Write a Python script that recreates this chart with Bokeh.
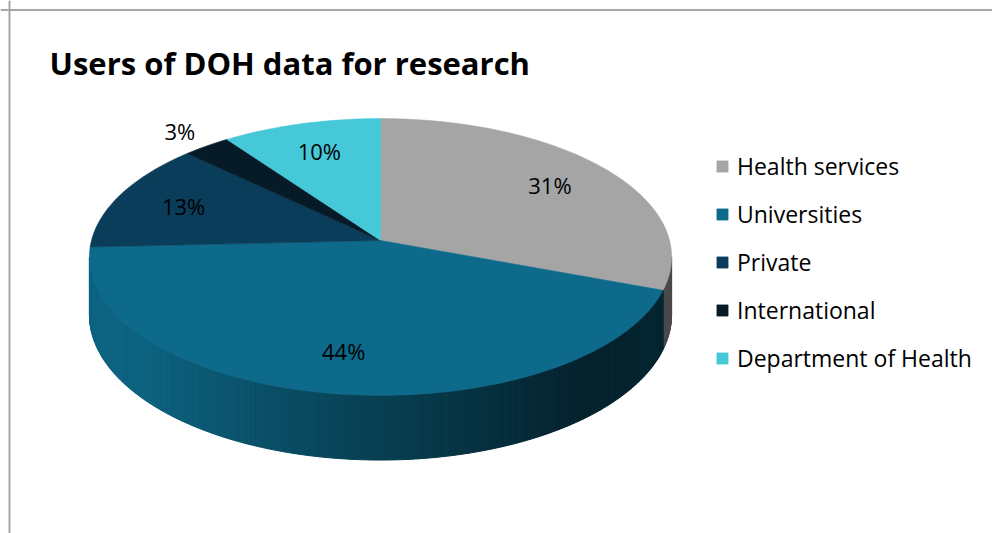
import numpy as np
from bokeh.plotting import figure
from bokeh.models import Range1d, Span, ColumnDataSource, Label
from bokeh.embed import file_html
from bokeh.resources import INLINE

# ---- data ----
TITLE = "Users of DOH data for research"
categories = ["Health services", "Universities", "Private", "International", "Department of Health"]
shares = [31, 44, 13, 3, 10]
pct_labels = ["31%", "44%", "13%", "3%", "10%"]
colors = ["#A5A5A5", "#0E6A8A", "#0A3D5A", "#061B27", "#45C8D8"]

# ---- figure: data units == page pixels ----
W, H = 992, 533
p = figure(width=W, height=H, x_range=Range1d(0, W), y_range=Range1d(H, 0),
           output_backend="svg", toolbar_location=None, min_border=0,
           x_axis_location=None, y_axis_location=None)
p.grid.visible = False
p.outline_line_color = None
p.background_fill_color = "white"

p.add_layout(Span(location=9.5, dimension="width", line_color="#A6A6A6", line_width=2))
p.add_layout(Span(location=9.0, dimension="height", line_color="#A6A6A6", line_width=2))

# ---- 3D pie geometry (perspective projection of a tilted disc) ----
CX, CY, R = 380.0, 240.0, 289.0
DIST = 8.4       # camera distance in radii
TILT = 0.472     # vertical squash
THICK = 57.0     # wall thickness


def proj(phi, drop=0.0):
    s = DIST / (DIST + np.cos(phi))
    x = CX + R * np.sin(phi) * s
    y = CY - R * TILT * np.cos(phi) * s + drop * s
    return x, y


def hex_rgb(h):
    h = h.lstrip("#")
    return tuple(int(h[i:i + 2], 16) for i in (0, 2, 4))


def shade(h, f):
    r, g, b = hex_rgb(h)
    return "#%02x%02x%02x" % (int(min(255, r * f)), int(min(255, g * f)), int(min(255, b * f)))


total = float(sum(shares))
cum = np.concatenate([[0.0], np.cumsum(shares)]) / total * 2 * np.pi

# ---- side wall with horizontal shading ----
phi0 = np.arccos(-1.0 / DIST)
phi1 = 2 * np.pi - phi0
angles = np.linspace(phi0, phi1, 260)
xmin, xmax = CX - R * 1.007, CX + R * 1.007
stops_t = [0.0, 0.1, 0.35, 0.55, 0.75, 0.85, 1.0]
stops_f = [0.95, 0.92, 0.71, 0.56, 0.40, 0.33, 0.35]
side_xs, side_ys, side_c = [], [], []
for a0, a1 in zip(angles[:-1], angles[1:]):
    am = 0.5 * (a0 + a1)
    idx = int(np.searchsorted(cum, am, side="right") - 1)
    idx = min(max(idx, 0), len(shares) - 1)
    xt0, yt0 = proj(a0)
    xt1, yt1 = proj(a1)
    xb1, yb1 = proj(a1, THICK)
    xb0, yb0 = proj(a0, THICK)
    t = (0.5 * (xt0 + xt1) - xmin) / (xmax - xmin)
    f = float(np.interp(t, stops_t, stops_f))
    if idx == 0:
        f = f * 1.3
    col = shade(colors[idx], f)
    side_xs.append([xt0, xt1, xb1, xb0])
    side_ys.append([yt0, yt1, yb1, yb0])
    side_c.append(col)
p.patches(side_xs, side_ys, fill_color=side_c, line_color=side_c, line_width=1)

# ---- top surface slices ----
top_xs, top_ys = [], []
for i in range(len(shares)):
    a = np.linspace(cum[i], cum[i + 1], max(4, int(shares[i] * 4)))
    x, y = proj(a)
    top_xs.append([CX] + list(x))
    top_ys.append([CY] + list(y))
src = ColumnDataSource(dict(xs=top_xs, ys=top_ys, color=colors, cat=categories))
p.patches("xs", "ys", source=src, fill_color="color", line_color="color", line_width=0.6,
          legend_field="cat")

# ---- percentage labels ----
lx, ly = [], []
for i in range(len(shares)):
    am = 0.5 * (cum[i] + cum[i + 1])
    fr = 0.75 if shares[i] >= 5 else 1.17
    s = DIST / (DIST + fr * np.cos(am))
    lx.append(CX + R * fr * np.sin(am) * s)
    ly.append(CY - R * TILT * fr * np.cos(am) * s)
p.text(x=lx, y=ly, text=pct_labels, text_align="center", text_baseline="middle",
       text_font={"value": "Open Sans"}, text_font_size="22px", text_color="#000000")

# ---- title ----
p.add_layout(Label(x=49, y=62, text=TITLE, text_font="Open Sans", text_font_style="bold",
                   text_font_size="31px", text_color="#000000", text_baseline="alphabetic"))

# ---- legend ----
lg = p.legend[0]
lg.location = (715, 159)
lg.padding = 0
lg.margin = 0
lg.border_line_color = None
lg.background_fill_alpha = 0
lg.glyph_width = 14
lg.glyph_height = 14
lg.label_height = 24
lg.spacing = 16
lg.label_standoff = 8
lg.label_text_font = "Open Sans"
lg.label_text_font_size = "23px"
lg.label_text_color = "#000000"

open("out.html", "w").write(file_html(p, INLINE))
